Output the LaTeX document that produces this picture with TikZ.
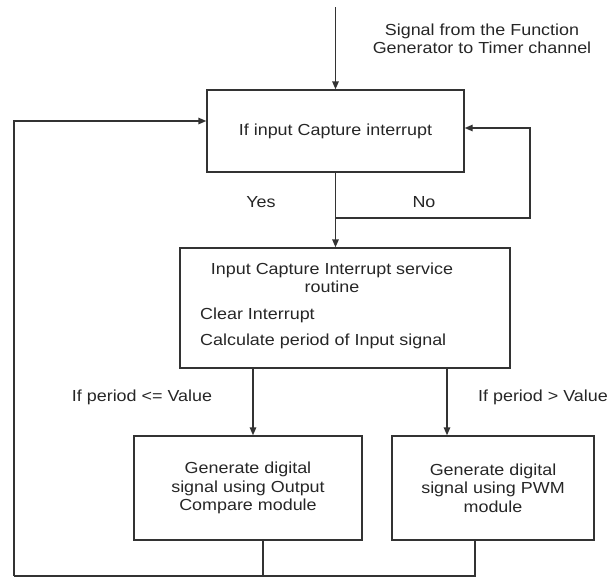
\documentclass[tikz,border=0pt]{standalone}
\usepackage{fontspec}
\setmainfont{Liberation Sans}[FakeStretch=1.12]
\usetikzlibrary{positioning,calc,arrows.meta}

\begin{document}
\begin{tikzpicture}[x=1pt,y=-1pt,every node/.style={font=\fontsize{16}{18.5}\selectfont,text=black!85},
  block/.style={rectangle,draw=black!80,line width=1.4pt,align=center},
  flow/.style={draw=black!80,line width=1.4pt,-{Triangle[length=8pt,width=6.5pt]}},
  link/.style={draw=black!80,line width=1.4pt}]
\useasboundingbox (0,0) rectangle (612,579);
\node[block,minimum width=257pt,minimum height=82pt] (ic) at (335.5,131) {If input Capture interrupt};
\node[block,minimum width=330pt,minimum height=120pt] (isr) at (345,308) {};
\node[align=center] (isrhead) at (332,278) {Input Capture Interrupt service\\routine};
\node[anchor=west,inner sep=0pt] (clear) at (200,315) {Clear Interrupt};
\node[anchor=west,inner sep=0pt] (calc) at (200,341) {Calculate period of Input signal};
\node[block,minimum width=228pt,minimum height=104pt] (oc) at (248,488) {Generate digital\\signal using Output\\Compare module};
\node[block,minimum width=202pt,minimum height=104pt] (pwm) at (493,488) {Generate digital\\signal using PWM\\module};

\node[align=center] (siglabel) at (482,39) {Signal from the Function\\Generator to Timer channel};
\node (yes) at (261,202) {Yes};
\node (no) at (424,202) {No};
\node (leq) at (142,397) {If period <= Value};
\node (gt) at (543,397) {If period > Value};

\coordinate (sig) at (335.5,7);
\coordinate (split) at (335.5,218);
\coordinate (noback) at (530,128);
\coordinate (ret) at (14,576);
\coordinate (retturn) at (14,121);

\draw[flow] (sig) -- (ic.north);
\draw[flow] (ic.south) -- (ic.south |- isr.north);
\draw[flow] (split) -| (noback) -- (noback -| ic.east);
\draw[flow] (isr.south -| 253,0) -- (oc.north -| 253,0);
\draw[flow] (isr.south -| 447,0) -- (pwm.north -| 447,0);
\draw[link] (oc.south -| 263,0) -- (ret -| 263,0);
\draw[link] (pwm.south -| 475,0) |- (ret);
\draw[flow] (ret) -- (retturn) -- (retturn -| ic.west);
\end{tikzpicture}
\end{document}
